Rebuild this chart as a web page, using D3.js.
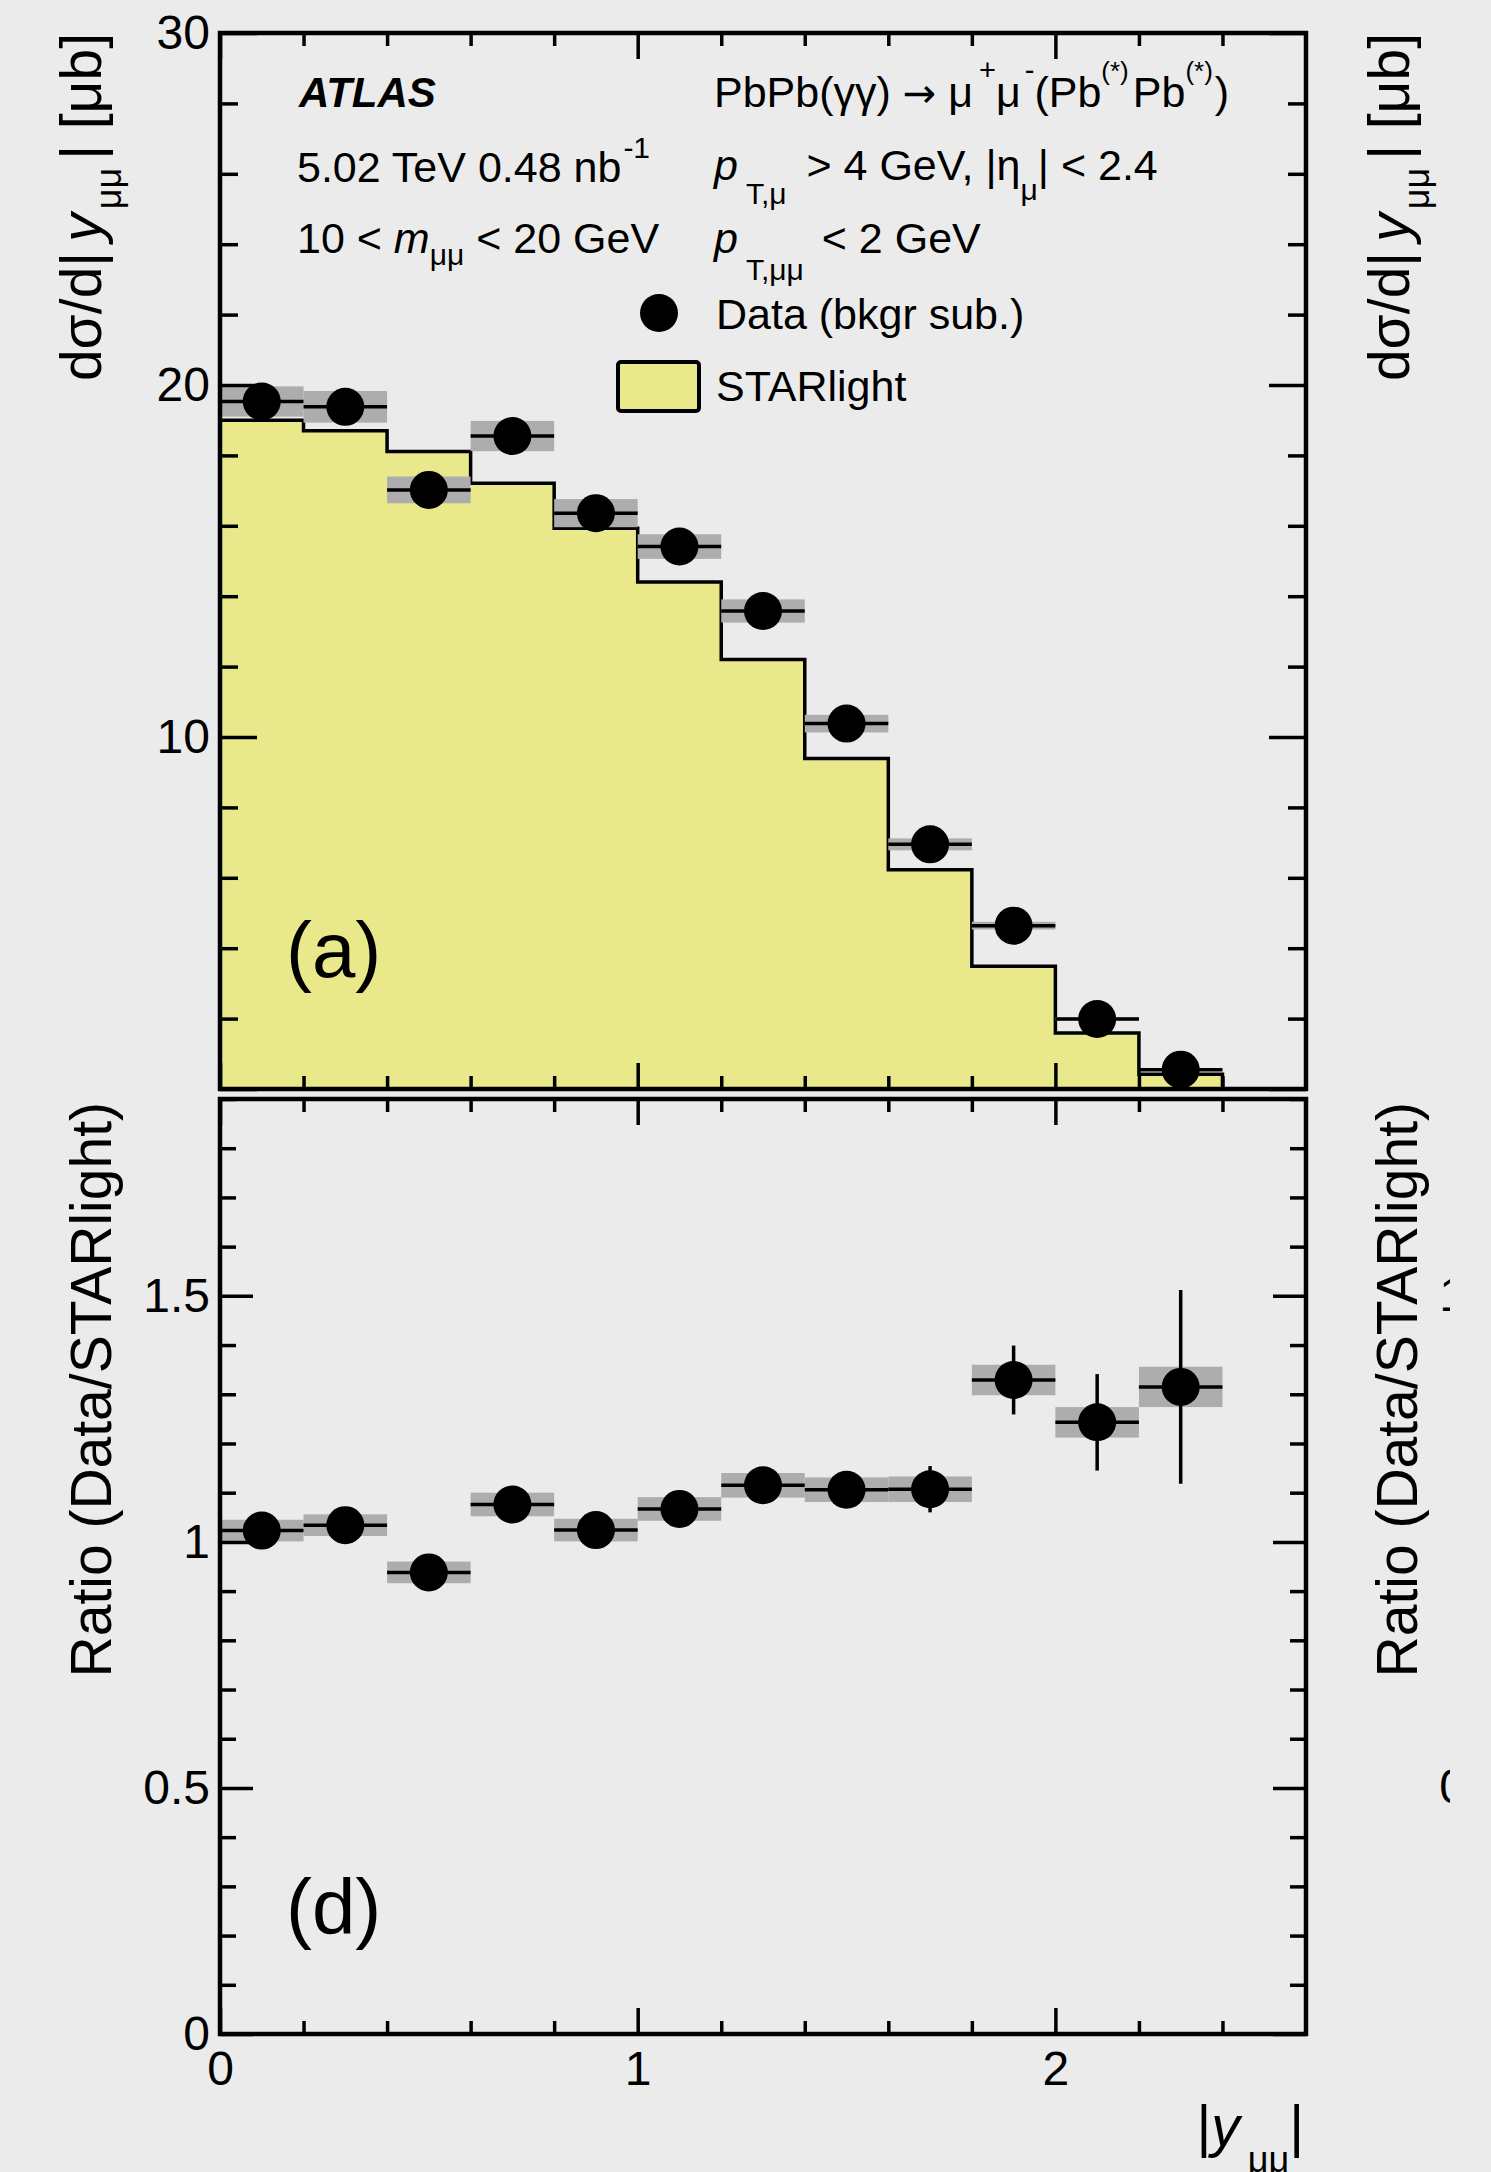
<!DOCTYPE html>
<html><head><meta charset="utf-8">
<script src="https://cdn.jsdelivr.net/npm/d3@7"></script>
<style>
html,body{margin:0;padding:0;background:#ebebeb;}
svg{display:block;}
text{font-family:"Liberation Sans",Arial,Helvetica,sans-serif;fill:#000;white-space:pre;}
</style></head><body>
<script>
// ---------------- data ----------------
const binEdges   = [0, 0.2, 0.4, 0.6, 0.8, 1.0, 1.2, 1.4, 1.6, 1.8, 2.0, 2.2, 2.4];
const binCenters = [0.1, 0.3, 0.5, 0.7, 0.9, 1.1, 1.3, 1.5, 1.7, 1.9, 2.1, 2.3];
const dataXsec     = [19.53, 19.38, 17.02, 18.55, 16.36, 15.41, 13.58, 10.38, 6.95, 4.64, 1.99, 0.55];
const dataXsecStat = [0.38, 0.37, 0.36, 0.38, 0.35, 0.36, 0.34, 0.31, 0.29, 0.24, 0.16, 0.08];
const dataXsecSys  = [0.43, 0.45, 0.38, 0.43, 0.40, 0.35, 0.33, 0.25, 0.17, 0.11, 0.05, 0.02];
const starlight    = [19.00, 18.70, 18.11, 17.21, 15.93, 14.40, 12.20, 9.39, 6.23, 3.49, 1.59, 0.42];
const ratio      = [1.023, 1.034, 0.938, 1.076, 1.024, 1.067, 1.115, 1.106, 1.107, 1.329, 1.243, 1.315];
const ratioStat  = [0.020, 0.020, 0.020, 0.022, 0.022, 0.025, 0.028, 0.033, 0.047, 0.070, 0.098, 0.197];
const ratioSys   = [0.022, 0.022, 0.022, 0.024, 0.023, 0.024, 0.025, 0.025, 0.026, 0.031, 0.031, 0.041];
const xTickLabels      = [0, 1, 2];
const yTickLabelsTop   = [10, 20, 30];
const yTickLabelsRatio = [0, 0.5, 1, 1.5];

// ---------------- layout ----------------
const W = 1491, H = 2172;
const X0 = 220, X1 = 1306;
const TOP_Y0 = 1089, TOP_Y1 = 33;
const RAT_Y0 = 2034, RAT_Y1 = 1099;
const YELLOW = "#e9e98b", SYSGREY = "#adadad";
const LW = 3.5;

const x = d3.scaleLinear().domain([0, 2.6]).range([X0, X1]);
const yTop = d3.scaleLinear().domain([0, 30]).range([TOP_Y0, TOP_Y1]);
const yRat = d3.scaleLinear().domain([0, 1.9]).range([RAT_Y0, RAT_Y1]);

const svg = d3.select("body").append("svg").attr("width", W).attr("height", H);
svg.append("rect").attr("width", W).attr("height", H).attr("fill", "#ebebeb");

function rich(parent, parts, o) {
  const t = parent.append("text").attr("x", o.x || 0).attr("y", o.y || 0)
    .attr("text-anchor", o.anchor || "start").style("font-size", o.size + "px");
  if (o.bold) t.style("font-weight", "bold");
  if (o.italic) t.style("font-style", "italic");
  let cur = 0;
  parts.forEach(p => {
    const s = t.append("tspan").text(p.t);
    const sh = p.sh || 0;
    if (sh !== cur) { s.attr("dy", sh - cur); cur = sh; }
    if (p.dx) s.attr("dx", p.dx);
    if (p.sz) s.style("font-size", p.sz + "px");
    if (p.i) s.style("font-style", "italic");
    if (p.ff) s.style("font-family", p.ff);
  });
  return t;
}

function styleAxis(g, fs) {
  g.select(".domain").remove();
  g.selectAll(".tick line").attr("stroke", "#000").attr("stroke-width", LW);
  g.selectAll(".tick text").attr("fill", "#000")
    .style("font-size", fs + "px").style("font-family", '"Liberation Sans",Arial,sans-serif');
  g.attr("font-family", null).attr("font-size", null);
}

function frameAndTicks(yS, yMajor, yMinor, yMajLen, yMinLen, xLabels, yBottom, yTopPx, yFmt) {
  const xMajor = [0, 1, 2];
  const xMinor = d3.range(0.2, 2.59, 0.2).filter(v => Math.abs(v - Math.round(v)) > 1e-6);
  let g = svg.append("g").attr("transform", `translate(${X0},0)`)
    .call(d3.axisLeft(yS).tickValues(yMajor).tickSize(-yMajLen).tickPadding(10).tickFormat(yFmt));
  styleAxis(g, 48);
  g = svg.append("g").attr("transform", `translate(${X0},0)`)
    .call(d3.axisLeft(yS).tickValues(yMinor).tickSize(-yMinLen).tickFormat(() => ""));
  styleAxis(g, 48);
  g = svg.append("g").attr("transform", `translate(${X1},0)`)
    .call(d3.axisRight(yS).tickValues(yMajor).tickSize(-yMajLen).tickFormat(() => ""));
  styleAxis(g, 48);
  g = svg.append("g").attr("transform", `translate(${X1},0)`)
    .call(d3.axisRight(yS).tickValues(yMinor).tickSize(-yMinLen).tickFormat(() => ""));
  styleAxis(g, 48);
  g = svg.append("g").attr("transform", `translate(0,${yBottom})`)
    .call(d3.axisBottom(x).tickValues(xLabels ? xLabels : xMajor).tickSize(-26).tickPadding(17)
      .tickFormat(xLabels ? d3.format("d") : () => ""));
  styleAxis(g, 48);
  g = svg.append("g").attr("transform", `translate(0,${yBottom})`)
    .call(d3.axisBottom(x).tickValues(xMinor).tickSize(-13).tickFormat(() => ""));
  styleAxis(g, 48);
  g = svg.append("g").attr("transform", `translate(0,${yTopPx})`)
    .call(d3.axisTop(x).tickValues(xMajor).tickSize(-26).tickFormat(() => ""));
  styleAxis(g, 48);
  g = svg.append("g").attr("transform", `translate(0,${yTopPx})`)
    .call(d3.axisTop(x).tickValues(xMinor).tickSize(-13).tickFormat(() => ""));
  styleAxis(g, 48);
  svg.append("rect").attr("x", X0).attr("y", yTopPx).attr("width", X1 - X0).attr("height", yBottom - yTopPx)
    .attr("fill", "none").attr("stroke", "#000").attr("stroke-width", 4.5);
}

function dataPoints(g, yS, vals, stat, sys) {
  const idx = d3.range(binCenters.length);
  g.selectAll(null).data(idx).join("rect")
    .attr("x", i => x(binEdges[i])).attr("width", i => x(binEdges[i + 1]) - x(binEdges[i]))
    .attr("y", i => yS(vals[i] + sys[i])).attr("height", i => yS(vals[i] - sys[i]) - yS(vals[i] + sys[i]))
    .attr("fill", SYSGREY);
  g.selectAll(null).data(idx).join("line")
    .attr("x1", i => x(binEdges[i])).attr("x2", i => x(binEdges[i + 1]))
    .attr("y1", i => yS(vals[i])).attr("y2", i => yS(vals[i]))
    .attr("stroke", "#000").attr("stroke-width", LW);
  g.selectAll(null).data(idx).join("line")
    .attr("x1", i => x(binCenters[i])).attr("x2", i => x(binCenters[i]))
    .attr("y1", i => yS(vals[i] - stat[i])).attr("y2", i => yS(vals[i] + stat[i]))
    .attr("stroke", "#000").attr("stroke-width", LW);
  g.selectAll(null).data(idx).join("circle")
    .attr("cx", i => x(binCenters[i])).attr("cy", i => yS(vals[i])).attr("r", 19).attr("fill", "#000");
}

// ---------------- top panel ----------------
const histPts = [[binEdges[0], 0]]
  .concat(binEdges.map((e, i) => [e, starlight[Math.min(i, starlight.length - 1)]]))
  .concat([[binEdges[binEdges.length - 1], 0]]);
const area = d3.area().curve(d3.curveStepAfter)
  .x(d => x(d[0])).y0(yTop(0)).y1(d => yTop(d[1]));
const line = d3.line().curve(d3.curveStepAfter).x(d => x(d[0])).y(d => yTop(d[1]));
const gTop = svg.append("g");
gTop.append("path").attr("d", area(histPts.slice(1, -1))).attr("fill", YELLOW);
gTop.append("path").attr("d", line(histPts)).attr("fill", "none").attr("stroke", "#000")
  .attr("stroke-width", LW).attr("stroke-linejoin", "miter");
dataPoints(gTop, yTop, dataXsec, dataXsecStat, dataXsecSys);

frameAndTicks(yTop, d3.range(0, 31, 10), d3.range(0, 31, 2).filter(v => v % 10), 37, 18,
  null, TOP_Y0, TOP_Y1, d => yTickLabelsTop.includes(d) ? d3.format("d")(d) : "");

// ---------------- ratio panel ----------------
const gRat = svg.append("g");
dataPoints(gRat, yRat, ratio, ratioStat, ratioSys);
frameAndTicks(yRat, d3.range(0, 1.91, 0.5),
  d3.range(0, 1.91, 0.1).filter(v => Math.abs(v * 2 - Math.round(v * 2)) > 1e-6), 33, 16,
  xTickLabels, RAT_Y0, RAT_Y1,
  d => yTickLabelsRatio.some(v => Math.abs(v - d) < 1e-6) ? String(+d.toFixed(1)) : "");

// ---------------- texts ----------------
rich(svg, [{t: "ATLAS"}], {x: 299, y: 107, size: 42, bold: true, italic: true});
rich(svg, [{t: "5.02 TeV 0.48 nb"}, {t: "-1", sz: 30, sh: -24, dx: 2}], {x: 297, y: 182, size: 43});
rich(svg, [{t: "10 < "}, {t: "m", i: 1}, {t: "μμ", sz: 30, sh: 12}, {t: " < 20 GeV", sh: 0}], {x: 297, y: 253, size: 43});

rich(svg, [{t: "PbPb(γγ) "}, {t: "→", ff: '"DejaVu Sans",sans-serif', sz: 40}, {t: " μ"},
  {t: "+", sz: 29, sh: -27, dx: 6}, {t: "μ", sh: 0}, {t: "-", sz: 29, sh: -27, dx: 4},
  {t: "(Pb", sh: 0}, {t: "(*)", sz: 26, sh: -27}, {t: "Pb", sh: 0, dx: 4}, {t: "(*)", sz: 26, sh: -27}, {t: ")", sh: 0, dx: 2}],
  {x: 714, y: 107, size: 43});
rich(svg, [{t: "p", i: 1}, {t: "T,μ", sz: 30, sh: 24, dx: 8}, {t: " > 4 GeV, |η", sh: 0, dx: 8},
  {t: "μ", sz: 30, sh: 20}, {t: "| < 2.4", sh: 0}], {x: 714, y: 180, size: 43});
rich(svg, [{t: "p", i: 1}, {t: "T,μμ", sz: 30, sh: 27, dx: 8}, {t: " < 2 GeV", sh: 0, dx: 6}], {x: 714, y: 253, size: 43});

// legend
svg.append("circle").attr("cx", 659).attr("cy", 313).attr("r", 19).attr("fill", "#000");
rich(svg, [{t: "Data (bkgr sub.)"}], {x: 716, y: 329, size: 43});
svg.append("rect").attr("x", 618).attr("y", 362).attr("width", 81).attr("height", 49).attr("rx", 3)
  .attr("fill", YELLOW).attr("stroke", "#000").attr("stroke-width", 4);
rich(svg, [{t: "STARlight"}], {x: 716, y: 401, size: 43});

// panel labels
rich(svg, [{t: "(a)"}], {x: 286, y: 977, size: 78});
rich(svg, [{t: "(d)"}], {x: 286, y: 1934, size: 78});

// axis titles (left and mirrored right)
function yTitleTop(xb) {
  const g = svg.append("g").attr("transform", `translate(${xb},${TOP_Y1}) rotate(-90)`);
  rich(g, [{t: "dσ/d|"}, {t: "y", i: 1, dx: 10}, {t: "μμ", sz: 36, sh: 20, dx: 4}, {t: "| [μb]", sh: 0, dx: 8}], {anchor: "end", size: 57});
}
function yTitleRat(xb) {
  const g = svg.append("g").attr("transform", `translate(${xb},${RAT_Y1 + 3}) rotate(-90)`);
  rich(g, [{t: "Ratio (Data/STARlight)"}], {anchor: "end", size: 57});
}
yTitleTop(101); yTitleRat(111);
yTitleTop(1409); yTitleRat(1417);

rich(svg, [{t: "|"}, {t: "y", i: 1}, {t: "μμ", sz: 36, sh: 26, dx: 8}, {t: "|", sh: 0}], {x: 1304, y: 2146, anchor: "end", size: 57});

// neighbouring panel's tick labels (only the wider ones reach into the figure), cut at the figure edge
svg.append("clipPath").attr("id", "edge").append("rect").attr("x", 1300).attr("y", 0).attr("width", 150).attr("height", H);
const gEdge = svg.append("g").attr("clip-path", "url(#edge)");
gEdge.selectAll(null).data(yTickLabelsRatio.filter(d => String(d).length > 2)).join("text")
  .attr("x", 1506).attr("y", d => yRat(d)).attr("dy", "0.32em").attr("text-anchor", "end")
  .style("font-size", "48px").text(d => String(d));
</script>
</body></html>
